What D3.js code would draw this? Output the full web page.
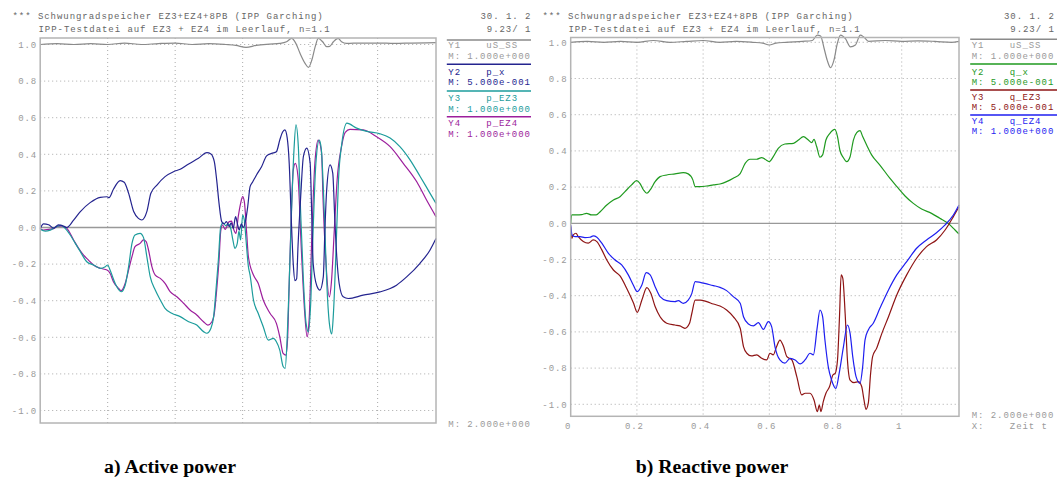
<!DOCTYPE html>
<html><head><meta charset="utf-8">
<script src="https://cdn.jsdelivr.net/npm/d3@7"></script>
<style>body{margin:0;background:#fff}svg{display:block}</style>
</head><body>
<svg id="c" width="1057" height="477"></svg>
<script>
// ---------- data ----------
const yTickVals = [1.0, 0.8, 0.6, 0.4, 0.2, 0.0, -0.2, -0.4, -0.6, -0.8, -1.0];
const yTickLabels = ["1.0","0.8","0.6","0.4","0.2","0.0","-0.2","-0.4","-0.6","-0.8","-1.0"];
const xGridVals = [0.2, 0.4, 0.6, 0.8, 1.0];
const xTickVals = [0, 0.2, 0.4, 0.6, 0.8, 1.0];
const xTickLabels = ["0","0.2","0.4","0.6","0.8","1"];
const xMax = 1.173;

// Active power panel
const uSA = [[0,1.0],[0.05,1.005],[0.1,1.0],[0.15,1.005],[0.2,1.0],[0.25,1.008],[0.3,1.0],[0.35,1.005],[0.4,1.008],[0.45,1.0],[0.5,1.005],[0.55,1.0],[0.58,0.995],[0.61,0.984],[0.64,0.995],[0.68,1.002],[0.71,1.006],[0.73,1.015],[0.745,1.033],[0.758,1.005],[0.77,0.952],[0.785,0.897],[0.795,0.875],[0.805,0.915],[0.815,0.988],[0.824,1.033],[0.837,1.015],[0.849,0.988],[0.858,0.99],[0.869,1.015],[0.883,1.033],[0.893,1.015],[0.908,1.006],[0.95,1.008],[1.0,1.008],[1.05,1.006],[1.1,1.008],[1.173,1.01]];
const pX = [[0,-0.005],[0.01,0.02],[0.025,0.015],[0.04,-0.003],[0.054,0.014],[0.064,0.012],[0.079,0],[0.099,0.04],[0.119,0.087],[0.148,0.136],[0.178,0.165],[0.198,0.168],[0.204,0.163],[0.217,0.209],[0.237,0.256],[0.249,0.247],[0.262,0.187],[0.277,0.087],[0.291,0.05],[0.301,0.041],[0.316,0.087],[0.328,0.187],[0.346,0.232],[0.37,0.278],[0.395,0.305],[0.415,0.318],[0.44,0.347],[0.469,0.378],[0.494,0.409],[0.506,0.402],[0.516,0.36],[0.523,0.26],[0.53,0.132],[0.538,0.032],[0.545,0.02],[0.552,0.032],[0.56,0.005],[0.566,0.025],[0.572,-0.005],[0.579,0.059],[0.585,0.015],[0.59,-0.014],[0.596,0.02],[0.602,0],[0.609,0.04],[0.615,0.114],[0.622,0.223],[0.63,0.25],[0.641,0.287],[0.656,0.332],[0.671,0.391],[0.686,0.405],[0.7,0.414],[0.71,0.478],[0.718,0.52],[0.725,0.533],[0.732,0.49],[0.738,0.35],[0.744,0.05],[0.75,-0.2],[0.755,-0.29],[0.76,-0.28],[0.764,-0.105],[0.772,0.169],[0.78,0.388],[0.79,0.434],[0.8,0.352],[0.805,0.05],[0.809,-0.197],[0.82,-0.32],[0.829,-0.342],[0.839,-0.27],[0.844,0],[0.849,0.205],[0.859,0.342],[0.867,0.297],[0.873,0.05],[0.879,-0.163],[0.886,-0.306],[0.898,-0.379],[0.913,-0.388],[0.957,-0.37],[1.007,-0.352],[1.056,-0.315],[1.086,-0.27],[1.125,-0.197],[1.155,-0.124],[1.173,-0.06]];
const pEZ3 = [[0,-0.01],[0.015,-0.02],[0.03,-0.014],[0.049,0.005],[0.061,0.012],[0.074,-0.005],[0.089,-0.041],[0.104,-0.087],[0.119,-0.132],[0.138,-0.187],[0.158,-0.205],[0.178,-0.223],[0.193,-0.214],[0.2,-0.205],[0.207,-0.232],[0.222,-0.305],[0.24,-0.351],[0.252,-0.314],[0.262,-0.214],[0.272,-0.087],[0.281,-0.041],[0.296,-0.032],[0.306,-0.054],[0.316,-0.159],[0.326,-0.269],[0.341,-0.342],[0.356,-0.396],[0.37,-0.442],[0.39,-0.469],[0.415,-0.487],[0.44,-0.515],[0.464,-0.533],[0.484,-0.569],[0.494,-0.578],[0.506,-0.551],[0.514,-0.487],[0.521,-0.341],[0.528,-0.178],[0.535,0.005],[0.542,0.026],[0.55,0.01],[0.557,0.02],[0.564,0.0],[0.571,-0.068],[0.577,-0.114],[0.584,-0.087],[0.589,-0.02],[0.594,-0.068],[0.6,0.068],[0.605,0.04],[0.61,-0.068],[0.617,-0.214],[0.622,-0.26],[0.632,-0.396],[0.646,-0.469],[0.661,-0.542],[0.676,-0.615],[0.691,-0.606],[0.7,-0.624],[0.71,-0.67],[0.72,-0.76],[0.726,-0.77],[0.732,-0.6],[0.738,-0.3],[0.745,0.1],[0.752,0.42],[0.758,0.561],[0.765,0.442],[0.772,0.077],[0.78,-0.288],[0.788,-0.524],[0.795,-0.57],[0.802,-0.4],[0.809,-0.006],[0.817,0.351],[0.827,0.478],[0.833,0.43],[0.842,0.077],[0.849,-0.288],[0.857,-0.524],[0.864,-0.582],[0.869,-0.47],[0.877,-0.106],[0.884,0.26],[0.894,0.46],[0.909,0.57],[0.938,0.543],[0.968,0.525],[1.007,0.512],[1.037,0.489],[1.066,0.442],[1.096,0.37],[1.126,0.279],[1.155,0.188],[1.173,0.132]];
const pEZ4 = [[0,-0.005],[0.01,-0.014],[0.025,-0.01],[0.04,-0.006],[0.054,0.008],[0.064,0.008],[0.079,-0.005],[0.099,-0.068],[0.114,-0.114],[0.128,-0.15],[0.143,-0.178],[0.158,-0.205],[0.178,-0.223],[0.198,-0.232],[0.207,-0.25],[0.217,-0.296],[0.232,-0.332],[0.24,-0.345],[0.252,-0.305],[0.262,-0.232],[0.272,-0.159],[0.281,-0.105],[0.296,-0.087],[0.306,-0.068],[0.314,-0.077],[0.321,-0.123],[0.331,-0.214],[0.341,-0.26],[0.356,-0.278],[0.37,-0.305],[0.385,-0.351],[0.405,-0.378],[0.425,-0.414],[0.444,-0.451],[0.464,-0.478],[0.484,-0.515],[0.497,-0.533],[0.509,-0.515],[0.516,-0.469],[0.523,-0.341],[0.53,-0.178],[0.535,-0.02],[0.54,0.014],[0.548,-0.01],[0.56,0.032],[0.567,0.035],[0.574,-0.014],[0.58,-0.032],[0.587,0.06],[0.594,0.132],[0.6,0.169],[0.605,0.141],[0.612,-0.032],[0.617,-0.16],[0.632,-0.26],[0.646,-0.305],[0.661,-0.396],[0.681,-0.469],[0.7,-0.524],[0.71,-0.597],[0.72,-0.688],[0.728,-0.697],[0.733,-0.615],[0.738,-0.305],[0.744,0.059],[0.75,0.314],[0.756,0.35],[0.764,0.278],[0.774,-0.123],[0.784,-0.468],[0.791,-0.597],[0.797,-0.506],[0.805,-0.05],[0.814,0.351],[0.824,0.478],[0.834,0.406],[0.838,0.17],[0.847,-0.195],[0.857,-0.379],[0.863,-0.3],[0.872,0.0],[0.88,0.26],[0.893,0.442],[0.904,0.52],[0.918,0.536],[0.957,0.533],[0.997,0.496],[1.037,0.442],[1.076,0.351],[1.116,0.25],[1.145,0.15],[1.173,0.059]];

// Reactive power panel
const uSB = [[0,1.0],[0.05,1.005],[0.1,1.0],[0.15,1.005],[0.2,1.0],[0.25,1.01],[0.3,1.0],[0.35,1.005],[0.4,1.01],[0.45,1.0],[0.5,1.005],[0.55,1.0],[0.58,0.995],[0.6,0.985],[0.62,0.995],[0.65,1.0],[0.7,1.005],[0.73,1.01],[0.745,1.04],[0.755,1.035],[0.765,0.97],[0.775,0.9],[0.785,0.86],[0.795,0.9],[0.805,0.99],[0.815,1.04],[0.83,1.02],[0.845,0.975],[0.86,0.985],[0.875,1.04],[0.885,1.03],[0.9,1.005],[0.95,1.01],[1.0,1.005],[1.05,1.008],[1.1,1.005],[1.15,1.0],[1.173,1.005]];
const qX = [[0,0],[0.003,0.046],[0.018,0.046],[0.033,0.048],[0.048,0.055],[0.063,0.046],[0.077,0.046],[0.089,0.064],[0.109,0.101],[0.129,0.129],[0.149,0.147],[0.164,0.175],[0.184,0.212],[0.199,0.236],[0.209,0.221],[0.22,0.184],[0.23,0.166],[0.24,0.184],[0.255,0.23],[0.27,0.258],[0.29,0.267],[0.315,0.273],[0.34,0.28],[0.355,0.273],[0.369,0.24],[0.376,0.203],[0.391,0.203],[0.411,0.206],[0.431,0.212],[0.451,0.217],[0.471,0.23],[0.491,0.249],[0.512,0.275],[0.527,0.331],[0.542,0.354],[0.562,0.354],[0.577,0.363],[0.587,0.354],[0.6,0.341],[0.612,0.368],[0.627,0.414],[0.647,0.438],[0.673,0.442],[0.688,0.46],[0.703,0.479],[0.718,0.46],[0.728,0.446],[0.735,0.464],[0.743,0.424],[0.753,0.365],[0.761,0.378],[0.771,0.46],[0.783,0.497],[0.798,0.519],[0.806,0.479],[0.813,0.405],[0.823,0.365],[0.834,0.341],[0.844,0.368],[0.854,0.46],[0.864,0.501],[0.874,0.512],[0.882,0.479],[0.894,0.433],[0.909,0.378],[0.934,0.322],[0.964,0.249],[0.99,0.193],[1.01,0.151],[1.035,0.11],[1.06,0.079],[1.09,0.055],[1.115,0.028],[1.14,0],[1.161,-0.037],[1.173,-0.059]];
const qEZ3 = [[0,-0.018],[0.003,-0.083],[0.008,-0.064],[0.016,-0.055],[0.023,-0.074],[0.038,-0.101],[0.053,-0.11],[0.068,-0.092],[0.079,-0.101],[0.094,-0.147],[0.109,-0.203],[0.129,-0.258],[0.149,-0.291],[0.169,-0.359],[0.19,-0.442],[0.201,-0.492],[0.215,-0.424],[0.23,-0.355],[0.242,-0.387],[0.255,-0.46],[0.27,-0.516],[0.29,-0.552],[0.315,-0.562],[0.33,-0.567],[0.345,-0.58],[0.359,-0.552],[0.366,-0.497],[0.376,-0.424],[0.391,-0.424],[0.411,-0.433],[0.431,-0.446],[0.451,-0.457],[0.471,-0.479],[0.491,-0.516],[0.512,-0.58],[0.522,-0.681],[0.532,-0.718],[0.546,-0.733],[0.562,-0.727],[0.577,-0.746],[0.592,-0.755],[0.602,-0.718],[0.612,-0.727],[0.622,-0.681],[0.632,-0.645],[0.643,-0.681],[0.653,-0.737],[0.668,-0.755],[0.683,-0.847],[0.698,-0.948],[0.708,-0.939],[0.723,-0.939],[0.735,-0.976],[0.745,-1.04],[0.751,-1.004],[0.756,-1.04],[0.763,-0.985],[0.771,-0.939],[0.782,-0.902],[0.792,-0.838],[0.799,-0.829],[0.806,-0.755],[0.812,-0.516],[0.817,-0.285],[0.822,-0.304],[0.829,-0.497],[0.836,-0.755],[0.844,-0.866],[0.856,-0.88],[0.869,-0.875],[0.879,-0.902],[0.886,-0.976],[0.892,-1.028],[0.899,-0.994],[0.906,-0.829],[0.912,-0.737],[0.924,-0.691],[0.94,-0.608],[0.96,-0.516],[0.985,-0.396],[1.015,-0.285],[1.045,-0.193],[1.075,-0.129],[1.105,-0.092],[1.131,-0.037],[1.156,0.037],[1.173,0.092]];
const qEZ4 = [[0,-0.01],[0.004,-0.064],[0.013,-0.074],[0.028,-0.074],[0.043,-0.079],[0.058,-0.077],[0.068,-0.07],[0.079,-0.077],[0.094,-0.11],[0.114,-0.166],[0.134,-0.203],[0.154,-0.23],[0.174,-0.285],[0.189,-0.341],[0.201,-0.378],[0.215,-0.341],[0.228,-0.273],[0.24,-0.285],[0.255,-0.35],[0.27,-0.405],[0.29,-0.427],[0.315,-0.433],[0.325,-0.427],[0.34,-0.442],[0.355,-0.424],[0.366,-0.387],[0.376,-0.322],[0.391,-0.326],[0.411,-0.335],[0.431,-0.344],[0.451,-0.354],[0.471,-0.372],[0.491,-0.405],[0.512,-0.442],[0.522,-0.516],[0.537,-0.556],[0.552,-0.567],[0.567,-0.549],[0.582,-0.586],[0.597,-0.543],[0.607,-0.571],[0.617,-0.681],[0.632,-0.755],[0.647,-0.773],[0.663,-0.746],[0.678,-0.755],[0.693,-0.777],[0.708,-0.755],[0.723,-0.718],[0.733,-0.727],[0.745,-0.571],[0.753,-0.479],[0.761,-0.516],[0.768,-0.645],[0.778,-0.792],[0.788,-0.866],[0.801,-0.912],[0.811,-0.829],[0.824,-0.681],[0.836,-0.562],[0.844,-0.608],[0.852,-0.737],[0.862,-0.847],[0.874,-0.884],[0.882,-0.792],[0.889,-0.645],[0.899,-0.589],[0.914,-0.552],[0.934,-0.47],[0.96,-0.368],[0.985,-0.285],[1.015,-0.212],[1.045,-0.138],[1.075,-0.092],[1.105,-0.052],[1.131,-0.009],[1.156,0.046],[1.173,0.101]];

const headerLine1 = "*** Schwungradspeicher EZ3+EZ4+8PB (IPP Garching)";
const headerLine2 = "IPP-Testdatei auf EZ3 + EZ4 im Leerlauf, n=1.1";
const dateLine1 = "30. 1. 2";
const dateLine2 = "9.23/ 1";
const legendA = [
  {tag:"Y1", name:"uS_SS", m:"M: 1.000e+000", color:"#8a8a8a", tcolor:"#9a9a9a", data:uSA},
  {tag:"Y2", name:"p_x",   m:"M: 5.000e-001", color:"#24248f", tcolor:"#24248f", data:pX},
  {tag:"Y3", name:"p_EZ3", m:"M: 1.000e+000", color:"#1c9c9c", tcolor:"#1c9c9c", data:pEZ3},
  {tag:"Y4", name:"p_EZ4", m:"M: 1.000e+000", color:"#9c1e9c", tcolor:"#9c1e9c", data:pEZ4}
];
const legendB = [
  {tag:"Y1", name:"uS_SS", m:"M: 1.000e+000", color:"#8a8a8a", tcolor:"#9a9a9a", data:uSB},
  {tag:"Y2", name:"q_x",   m:"M: 5.000e-001", color:"#1f9a1f", tcolor:"#1f9a1f", data:qX},
  {tag:"Y3", name:"q_EZ3", m:"M: 5.000e-001", color:"#8e1414", tcolor:"#8e1414", data:qEZ3},
  {tag:"Y4", name:"q_EZ4", m:"M: 1.000e+000", color:"#1e1ef0", tcolor:"#1e1ef0", data:qEZ4}
];
const drawOrderA = [0, 3, 2, 1];
const drawOrderB = [0, 1, 2, 3];

// ---------- drawing ----------
const svg = d3.select("#c");
const mono = "'Liberation Mono','DejaVu Sans Mono',monospace";
const FS = 9, LS = 0.95;
svg.append("defs").append("clipPath").attr("id","clipA").append("rect")
  .attr("x",0).attr("y",0).attr("width",531).attr("height",440);

function monoText(g, x, y, t, fill) {
  return g.append("text").attr("x", x).attr("y", y).text(t)
    .attr("font-family", mono).attr("font-size", FS).attr("letter-spacing", LS)
    .attr("fill", fill).style("white-space", "pre");
}

function panel(cfg) {
  const g = svg.append("g");
  if (cfg.clip) g.attr("clip-path","url(#clipA)");
  const x = d3.scaleLinear().domain([0, xMax]).range([cfg.left, cfg.right]);
  const y = d3.scaleLinear().domain([-1, 1]).range([cfg.yM1, cfg.y1]);

  // header
  monoText(g, cfg.hx, 18.5, headerLine1, "#666");
  monoText(g, cfg.hx + 26, 32, headerLine2, "#666");
  monoText(g, cfg.dx, 18.5, dateLine1, "#666");
  monoText(g, cfg.dx + 6.3, 32, dateLine2, "#666");

  // grid
  g.selectAll(".hg").data(yTickVals.filter(v => v !== 0)).enter().append("line")
    .attr("x1", cfg.left).attr("x2", cfg.right).attr("y1", d => y(d)).attr("y2", d => y(d))
    .attr("stroke", "#aaa").attr("stroke-width", 1).attr("stroke-dasharray", "1,3");
  g.selectAll(".vg").data(xGridVals).enter().append("line")
    .attr("x1", d => x(d)).attr("x2", d => x(d)).attr("y1", cfg.top).attr("y2", cfg.bottom)
    .attr("stroke", "#aaa").attr("stroke-width", 1).attr("stroke-dasharray", "1,3");
  g.append("line").attr("x1", cfg.left).attr("x2", cfg.right).attr("y1", y(0)).attr("y2", y(0))
    .attr("stroke", "#999").attr("stroke-width", 1.3);

  // y axis labels
  const ya = g.append("g").attr("transform", `translate(${cfg.left},0)`)
    .call(d3.axisLeft(y).tickValues(yTickVals).tickFormat((d, i) => yTickLabels[i]).tickSize(0).tickPadding(3));
  ya.select(".domain").remove();
  ya.selectAll("text").attr("font-family", mono).attr("font-size", FS).attr("letter-spacing", LS).attr("fill", "#9a9a9a");

  if (cfg.xlabels) {
    const xa = g.append("g").attr("transform", `translate(0,${cfg.bottom})`)
      .call(d3.axisBottom(x).tickValues(xTickVals).tickFormat((d, i) => xTickLabels[i]).tickSize(0).tickPadding(6));
    xa.select(".domain").remove();
    xa.selectAll("text").attr("font-family", mono).attr("font-size", FS).attr("letter-spacing", LS).attr("fill", "#9a9a9a").attr("dx", -3);
  }

  // series
  const line = d3.line().x(d => x(d[0])).y(d => y(d[1])).curve(d3.curveMonotoneX);
  cfg.order.forEach(i => {
    const s = cfg.legend[i];
    g.append("path").datum(s.data).attr("d", line).attr("fill", "none")
      .attr("stroke", s.color).attr("stroke-width", 1.2).attr("stroke-linejoin", "round");
  });

  // box
  g.append("rect").attr("x", cfg.left).attr("y", cfg.top)
    .attr("width", cfg.right - cfg.left).attr("height", cfg.bottom - cfg.top)
    .attr("fill", "none").attr("stroke", "#b4b4b4").attr("stroke-width", 1.5);

  // legend
  cfg.legend.forEach((s, i) => {
    const ly = cfg.legY[i];
    g.append("line").attr("x1", cfg.lx - 1.5).attr("x2", cfg.lx + 90).attr("y1", ly.line).attr("y2", ly.line)
      .attr("stroke", s.color).attr("stroke-width", 1.5);
    monoText(g, cfg.lx, ly.t1, s.tag, s.tcolor);
    monoText(g, cfg.lx + 38, ly.t1, s.name, s.tcolor);
    monoText(g, cfg.lx, ly.t2, s.m, s.tcolor);
  });
  cfg.footer.forEach(f => monoText(g, cfg.lx, f.y, f.t, "#9a9a9a"));

  // caption
  svg.append("text").attr("x", cfg.capX).attr("y", 472.5).attr("text-anchor", "middle")
    .text(cfg.caption).attr("font-family", "'Liberation Serif','Times New Roman',serif")
    .attr("font-weight", "bold").attr("font-size", 19.8).attr("fill", "#000");
}

panel({
  left: 40.2, right: 436, top: 38, bottom: 423, y1: 44.5, yM1: 410.5, clip: true,
  hx: 12.5, dx: 480.5, lx: 448.3, legend: legendA, order: drawOrderA, xlabels: false,
  legY: [{line:40, t1:48, t2:58.5}, {line:64.3, t1:74.5, t2:85}, {line:91, t1:101, t2:111.5}, {line:116.7, t1:126, t2:136.5}],
  footer: [{y: 426.5, t: "M: 2.000e+000"}],
  caption: "a) Active power", capX: 170
});
panel({
  left: 570.7, right: 959, top: 37.5, bottom: 416.3, y1: 42.3, yM1: 404.3, clip: false,
  hx: 542.5, dx: 1004, lx: 971.7, legend: legendB, order: drawOrderB, xlabels: true,
  legY: [{line:39.3, t1:48, t2:58.5}, {line:64, t1:74.5, t2:85}, {line:90, t1:99.5, t2:110}, {line:115, t1:123.5, t2:134}],
  footer: [{y: 417.5, t: "M: 2.000e+000"}, {y: 428.5, t: "X:    Zeit t"}],
  caption: "b) Reactive power", capX: 712
});
</script>
</body></html>
